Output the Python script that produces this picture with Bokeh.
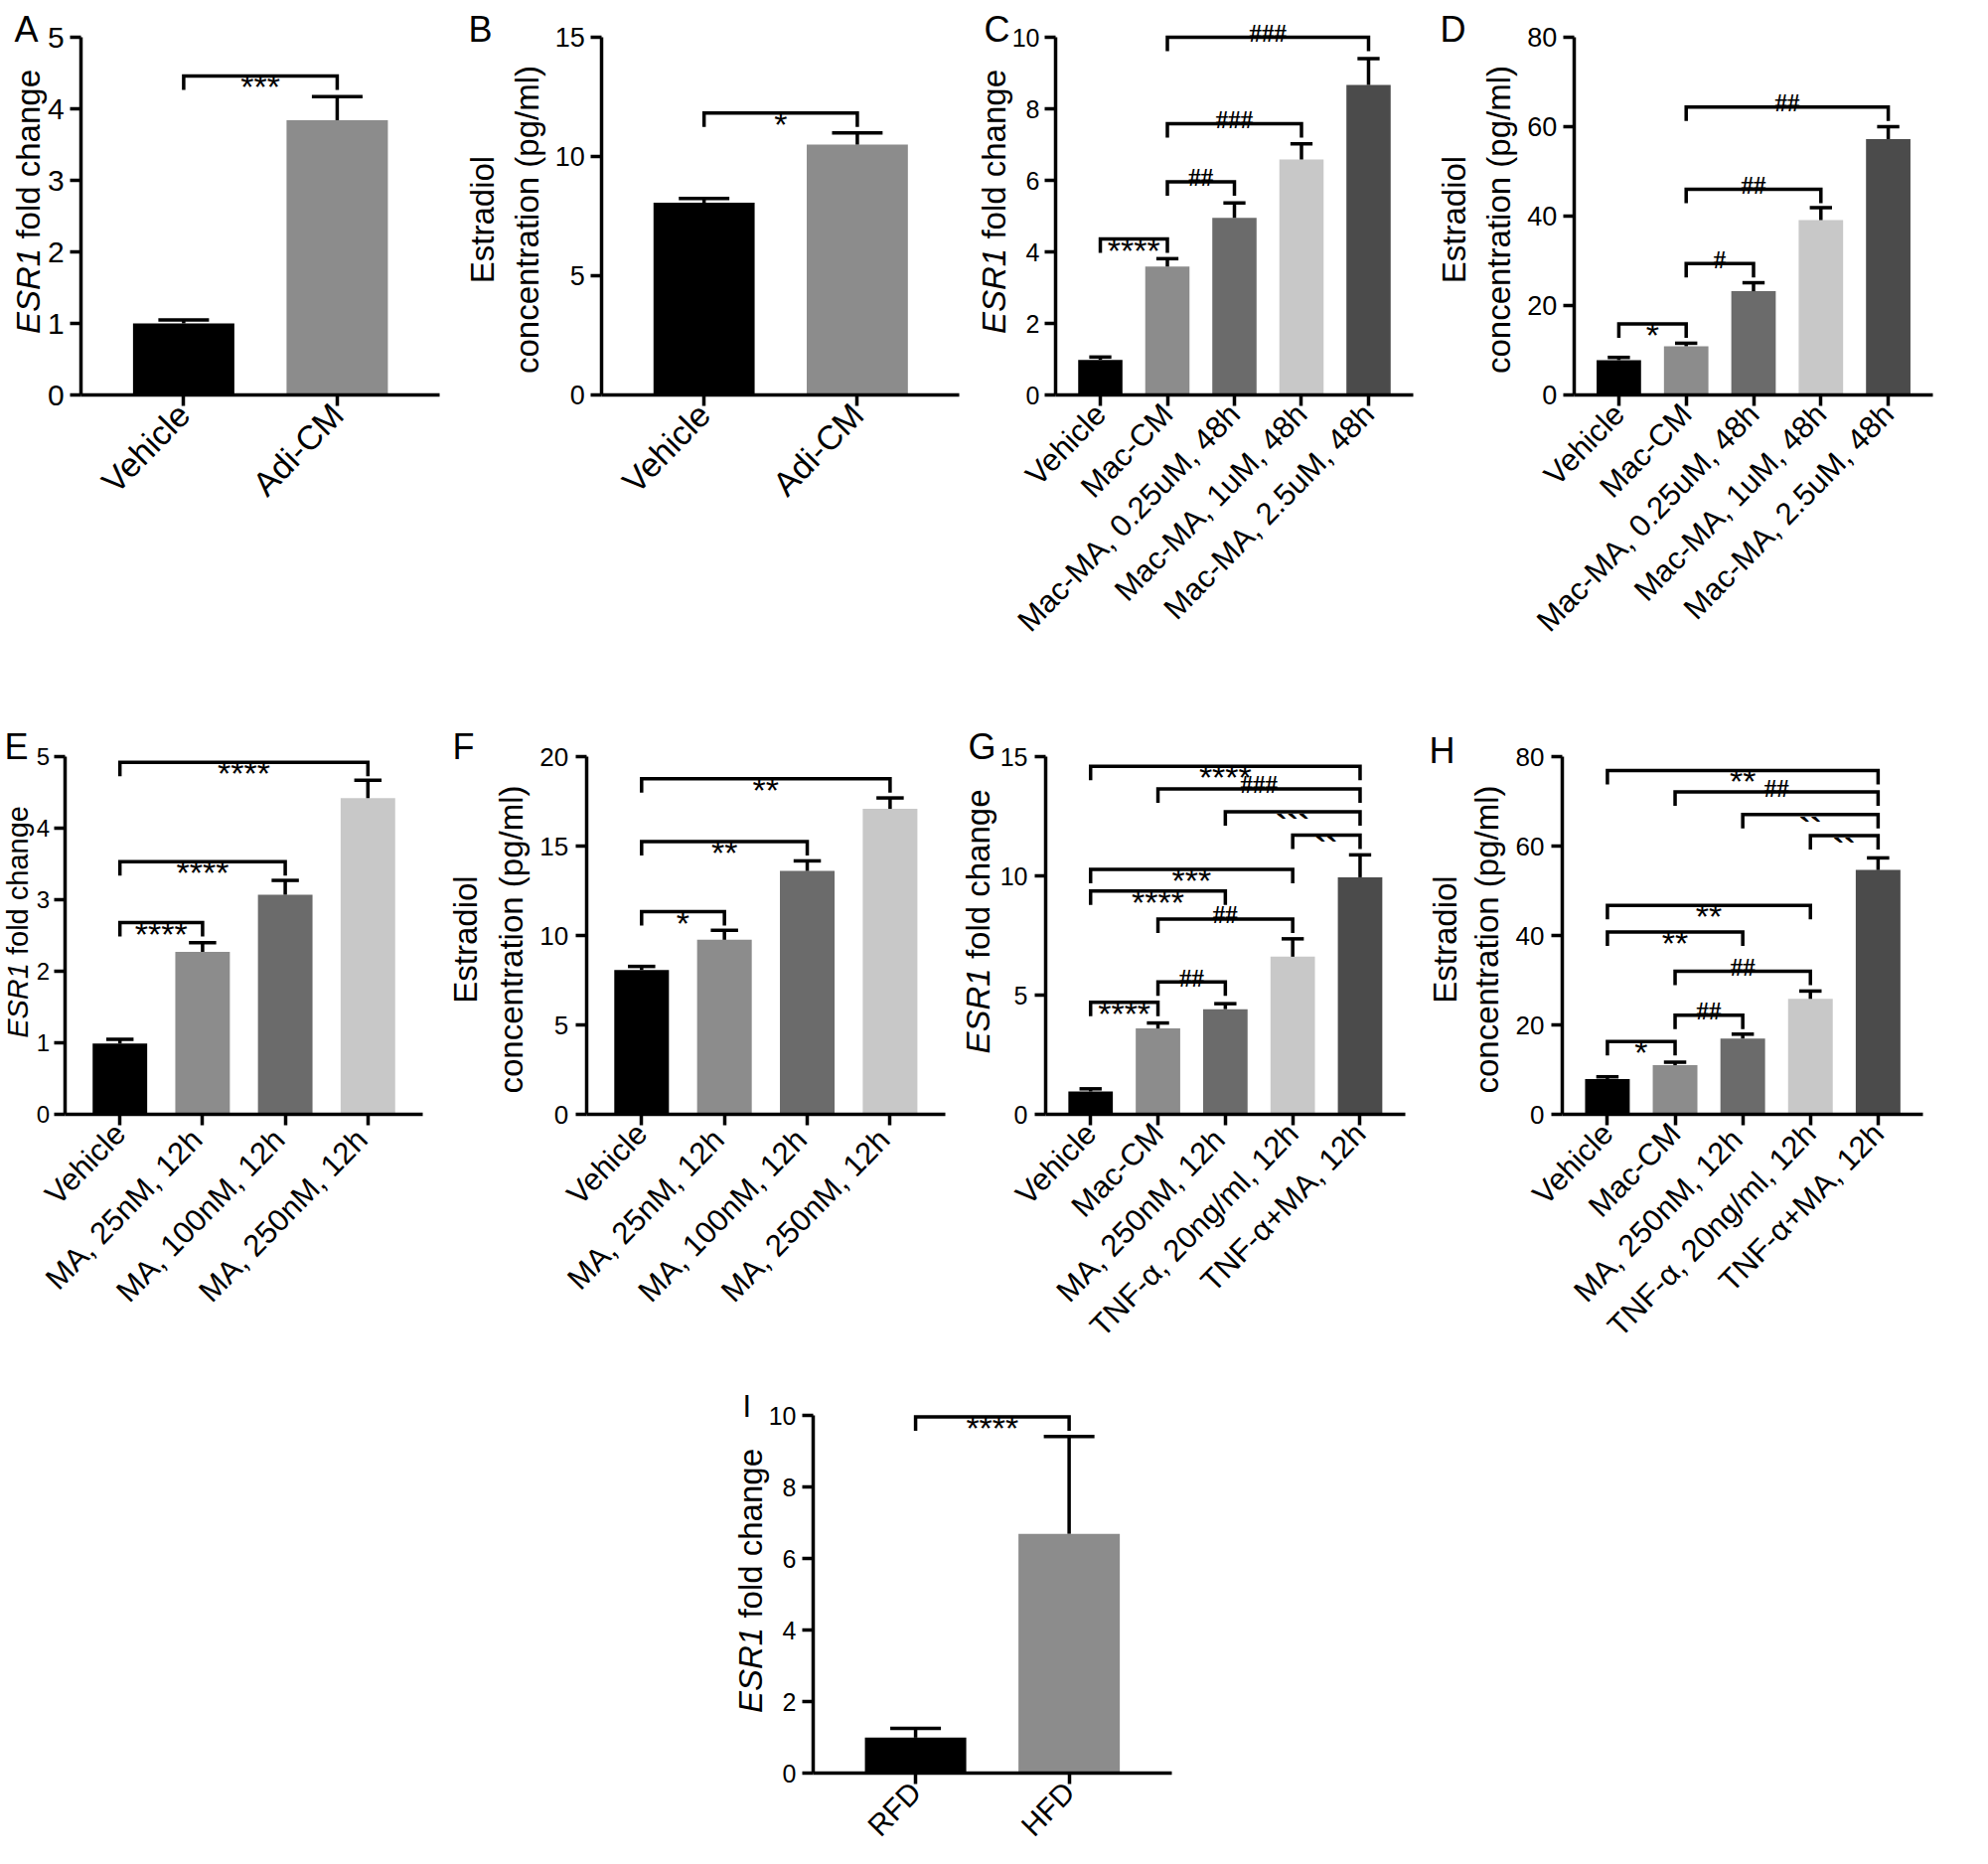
import math
from bokeh.plotting import figure
from bokeh.models import Range1d, FixedTicker, Spacer
from bokeh.layouts import row, column
from bokeh.core.properties import value
from bokeh.embed import file_html
from bokeh.resources import INLINE

# ---------------- data ----------------
A_cats = ["Vehicle", "Adi-CM"]
A_mean = [1.00, 3.84]
A_err = [0.05, 0.33]
A_sig = [(0, 1, 4.46, "***")]
A_yticks = [0, 1, 2, 3, 4, 5]

B_cats = ["Vehicle", "Adi-CM"]
B_mean = [8.06, 10.50]
B_err = [0.18, 0.49]
B_sig = [(0, 1, 11.82, "*")]
B_yticks = [0, 5, 10, 15]

C_cats = ["Vehicle", "Mac-CM", "Mac-MA, 0.25uM, 48h", "Mac-MA, 1uM, 48h", "Mac-MA, 2.5uM, 48h"]
C_mean = [0.98, 3.59, 4.95, 6.58, 8.67]
C_err = [0.08, 0.22, 0.42, 0.44, 0.73]
C_sig = [(0, 1, 4.36, "****"), (1, 2, 5.96, "##"), (1, 3, 7.58, "###"), (1, 4, 10.0, "###")]
C_yticks = [0, 2, 4, 6, 8, 10]

D_cats = ["Vehicle", "Mac-CM", "Mac-MA, 0.25uM, 48h", "Mac-MA, 1uM, 48h", "Mac-MA, 2.5uM, 48h"]
D_mean = [7.8, 10.9, 23.2, 39.1, 57.2]
D_err = [0.6, 0.67, 1.9, 2.8, 2.8]
D_sig = [(0, 1, 15.9, "*"), (1, 2, 29.4, "#"), (1, 3, 46.0, "##"), (1, 4, 64.4, "##")]
D_yticks = [0, 20, 40, 60, 80]

E_cats = ["Vehicle", "MA, 25nM,  12h", "MA, 100nM,  12h", "MA, 250nM,  12h"]
E_mean = [0.99, 2.27, 3.07, 4.42]
E_err = [0.06, 0.13, 0.20, 0.25]
E_sig = [(0, 1, 2.68, "****"), (0, 2, 3.53, "****"), (0, 3, 4.92, "****")]
E_yticks = [0, 1, 2, 3, 4, 5]

F_cats = ["Vehicle", "MA, 25nM,  12h", "MA, 100nM,  12h", "MA, 250nM,  12h"]
F_mean = [8.07, 9.76, 13.61, 17.08]
F_err = [0.20, 0.53, 0.56, 0.61]
F_sig = [(0, 1, 11.33, "*"), (0, 2, 15.25, "**"), (0, 3, 18.77, "**")]
F_yticks = [0, 5, 10, 15, 20]

G_cats = ["Vehicle", "Mac-CM", "MA, 250nM,  12h", "TNF-α, 20ng/ml, 12h", "TNF-α+MA, 12h"]
G_mean = [0.96, 3.60, 4.41, 6.61, 9.94]
G_err = [0.11, 0.23, 0.23, 0.75, 0.94]
G_sig = [(0, 1, 4.70, "****"), (1, 2, 5.55, "##"), (1, 3, 8.19, "##"), (0, 2, 9.36, "****"),
         (0, 3, 10.27, "***"), (3, 4, 11.71, "``"), (2, 4, 12.69, "```"), (1, 4, 13.65, "###"),
         (0, 4, 14.59, "****")]
G_yticks = [0, 5, 10, 15]

H_cats = ["Vehicle", "Mac-CM", "MA, 250nM,  12h", "TNF-α, 20ng/ml, 12h", "TNF-α+MA, 12h"]
H_mean = [7.9, 10.99, 16.96, 25.83, 54.65]
H_err = [0.5, 0.67, 0.97, 1.74, 2.7]
H_sig = [(0, 1, 16.29, "*"), (1, 2, 22.17, "##"), (1, 3, 32.0, "##"), (0, 2, 40.77, "**"),
         (0, 3, 46.75, "**"), (3, 4, 62.36, "``"), (2, 4, 67.08, "``"), (1, 4, 72.1, "##"),
         (0, 4, 76.9, "**")]
H_yticks = [0, 20, 40, 60, 80]

I_cats = ["RFD", "HFD"]
I_mean = [0.99, 6.69]
I_err = [0.26, 2.72]
I_sig = [(0, 1, 9.96, "****")]
I_yticks = [0, 2, 4, 6, 8, 10]

# ---------------- style / layout ----------------
GRAYS2 = ["#000000", "#8c8c8c"]
GRAYS4 = ["#000000", "#8c8c8c", "#6b6b6b", "#c8c8c8"]
GRAYS5 = ["#000000", "#8c8c8c", "#6b6b6b", "#c8c8c8", "#4b4b4b"]
FONT = "Liberation Sans"
LW = 3.5
PX = 360  # pixels between 0 and the top tick

ROWS = {1: dict(top=8, h=692, base=405),
        2: dict(top=700, h=680, base=1129),
        3: dict(top=1380, h=488, base=1792)}

GEO = {
    "A": dict(row=1, fig_left=8, fig_w=467, frame_left=89.3, frame_right=450.0),
    "B": dict(row=1, fig_left=475, fig_w=505, frame_left=613.3, frame_right=973.3),
    "C": dict(row=1, fig_left=980, fig_w=470, frame_left=1070.0, frame_right=1430.0),
    "D": dict(row=1, fig_left=1450, fig_w=543, frame_left=1591.7, frame_right=1953.3),
    "E": dict(row=2, fig_left=8, fig_w=450, frame_left=72.7, frame_right=433.3),
    "F": dict(row=2, fig_left=458, fig_w=517, frame_left=597.7, frame_right=959.0),
    "G": dict(row=2, fig_left=975, fig_w=465, frame_left=1060.0, frame_right=1421.7),
    "H": dict(row=2, fig_left=1440, fig_w=553, frame_left=1580.0, frame_right=1943.3),
    "I": dict(row=3, fig_left=700, fig_w=500, frame_left=826.0, frame_right=1186.7),
}

# screen positions of panel letters (left, baseline) and y labels
LAB = {
    "A": dict(letter=(22, 37), ylab=("esr", 36, 210.5)),
    "B": dict(letter=(479, 37), ylab=("est", 493, 538, 228.5)),
    "C": dict(letter=(998, 37), ylab=("esr", 1008, 210.5)),
    "D": dict(letter=(1457, 37), ylab=("est", 1471, 1516, 228.5)),
    "E": dict(letter=(12, 759), ylab=("esr", 25, 935.5)),
    "F": dict(letter=(463, 759), ylab=("est", 476, 522, 953)),
    "G": dict(letter=(982, 758.5), ylab=("esr", 992, 935)),
    "H": dict(letter=(1446, 763), ylab=("est", 1462, 1504, 953)),
    "I": dict(letter=(755, 1423), ylab=("esr", 763, 1598.5)),
}

SIZES = {
    "A": dict(letter=36, ytick=30, ystand=6, xtick=34, ylab=33),
    "B": dict(letter=36, ytick=27, ystand=6, xtick=34, ylab=33),
    "C": dict(letter=36, ytick=25, ystand=5, xtick=31, ylab=33),
    "D": dict(letter=36, ytick=27, ystand=6, xtick=31, ylab=33),
    "E": dict(letter=36, ytick=24, ystand=4, xtick=31, ylab=29),
    "F": dict(letter=36, ytick=26, ystand=7, xtick=31, ylab=33),
    "G": dict(letter=36, ytick=25, ystand=7, xtick=31, ylab=33),
    "H": dict(letter=36, ytick=26, ystand=7, xtick=31, ylab=33),
    "I": dict(letter=31, ytick=25, ystand=6, xtick=30, ylab=33),
}

XANGLE = 0.80
SIG_STYLE = {"*": (FONT, 34, -11.0, "normal"),
             "#": ("Liberation Serif", 25, 4.0, "bold"),
             "`": (FONT, 34, -14.0, "bold")}


def make_panel(key, cats, mean, err, sig, yticks, colors):
    g = GEO[key]
    r = ROWS[g["row"]]
    lab = LAB[key]
    st = SIZES[key]
    n = len(cats)
    ymax = yticks[-1]
    x0, x1 = -0.667, n - 1 + 0.667
    fw = g["frame_right"] - g["frame_left"]
    ppx = fw / (x1 - x0)
    ppy = PX / ymax
    xs_ = x0 - (g["frame_left"] - g["fig_left"]) / ppx
    xe_ = xs_ + g["fig_w"] / ppx
    ye_ = (r["base"] - r["top"]) / ppy
    ys_ = (r["base"] - (r["top"] + r["h"])) / ppy

    def dx(sx):
        return xs_ + (sx - g["fig_left"]) / ppx

    def dy(sy):
        return (r["base"] - sy) / ppy

    p = figure(width=g["fig_w"], height=r["h"], x_range=Range1d(xs_, xe_),
               y_range=Range1d(ys_, ye_), min_border=0,
               toolbar_location=None, output_backend="svg", title=None)
    p.xgrid.visible = False
    p.ygrid.visible = False
    p.outline_line_color = None
    p.background_fill_color = "white"
    p.border_fill_color = "white"

    for ax in (p.xaxis[0], p.yaxis[0]):
        ax.axis_line_width = LW
        ax.axis_line_color = "black"
        ax.major_tick_line_width = LW
        ax.major_tick_line_color = "black"
        ax.major_tick_in = 0
        ax.major_tick_out = 11
        ax.minor_tick_line_color = None
        ax.major_label_text_font = FONT
        ax.major_label_text_color = "black"

    p.yaxis.fixed_location = x0
    p.yaxis.ticker = FixedTicker(ticks=yticks)
    p.yaxis.bounds = (0, ymax)
    p.yaxis.major_label_text_font_size = f"{st['ytick']}px"
    p.yaxis.major_label_standoff = st["ystand"]

    p.xaxis.fixed_location = 0
    p.xaxis.bounds = (x0, x1)
    p.xaxis.ticker = FixedTicker(ticks=list(range(n)))
    p.xaxis.major_label_overrides = {i: c for i, c in enumerate(cats)}
    p.xaxis.major_label_orientation = XANGLE
    p.xaxis.major_label_text_font_size = f"{st['xtick']}px"
    p.xaxis.major_label_standoff = 3

    xs = list(range(n))
    p.vbar(x=xs, top=mean, bottom=0, width=0.66, fill_color=colors, line_color=None)
    tops = [m + e for m, e in zip(mean, err)]
    p.segment(x0=xs, y0=mean, x1=xs, y1=tops, line_color="black", line_width=LW)
    p.segment(x0=[x - 0.165 for x in xs], y0=tops, x1=[x + 0.165 for x in xs], y1=tops,
              line_color="black", line_width=LW)

    leg = 14 / ppy
    bxs, bys = [], []
    for (i, j, h, t) in sig:
        bxs.append([i, i, j, j])
        bys.append([h - leg, h, h, h - leg])
    p.multi_line(xs=bxs, ys=bys, line_color="black", line_width=LW, line_join="miter")
    for (i, j, h, t) in sig:
        f, fs, off, sty = SIG_STYLE[t[0]]
        p.text(x=[(i + j) / 2], y=[h + off / ppy], text=[t], text_font=value(f),
               text_font_size=value(f"{fs}px"), text_font_style=sty, text_align="center",
               text_baseline="alphabetic", text_color="black")

    # panel letter
    lx, ly = lab["letter"]
    p.text(x=[dx(lx)], y=[dy(ly)], text=[key], text_font=value(FONT),
           text_font_size=value(f"{st['letter']}px"), text_align="left",
           text_baseline="alphabetic", text_color="black")
    # y axis label
    yfs = st["ylab"]
    yl = lab["ylab"]
    if yl[0] == "esr":
        cx, cy = yl[1], yl[2]
        total = 8.06 * yfs
        bottom = cy + total / 2
        w1 = 2.89 * yfs
        p.text(x=[dx(cx)], y=[dy(bottom)], text=["ESR1"], angle=math.pi / 2,
               text_font=value(FONT), text_font_style="italic",
               text_font_size=value(f"{yfs}px"), text_align="left",
               text_baseline="middle", text_color="black")
        p.text(x=[dx(cx)], y=[dy(bottom - w1)], text=["fold change"], angle=math.pi / 2,
               text_font=value(FONT), text_font_size=value(f"{yfs}px"),
               text_align="left", text_baseline="middle", text_color="black")
    else:
        c1, c2, cy = yl[1], yl[2], yl[3]
        p.text(x=[dx(c1), dx(c2)], y=[dy(cy), dy(cy)],
               text=["Estradiol", "concentration (pg/ml)"], angle=math.pi / 2,
               text_font=value(FONT), text_font_size=value(f"{yfs}px"),
               text_align="center", text_baseline="middle", text_color="black")
    return p


pA = make_panel("A", A_cats, A_mean, A_err, A_sig, A_yticks, GRAYS2)
pB = make_panel("B", B_cats, B_mean, B_err, B_sig, B_yticks, GRAYS2)
pC = make_panel("C", C_cats, C_mean, C_err, C_sig, C_yticks, GRAYS5)
pD = make_panel("D", D_cats, D_mean, D_err, D_sig, D_yticks, GRAYS5)
pE = make_panel("E", E_cats, E_mean, E_err, E_sig, E_yticks, GRAYS4)
pF = make_panel("F", F_cats, F_mean, F_err, F_sig, F_yticks, GRAYS4)
pG = make_panel("G", G_cats, G_mean, G_err, G_sig, G_yticks, GRAYS5)
pH = make_panel("H", H_cats, H_mean, H_err, H_sig, H_yticks, GRAYS5)
pI = make_panel("I", I_cats, I_mean, I_err, I_sig, I_yticks, GRAYS2)

layout = column(
    row(pA, pB, pC, pD),
    row(pE, pF, pG, pH),
    row(Spacer(width=GEO["I"]["fig_left"] - 8, height=ROWS[3]["h"]), pI),
)

open("out.html", "w").write(file_html(layout, INLINE))
